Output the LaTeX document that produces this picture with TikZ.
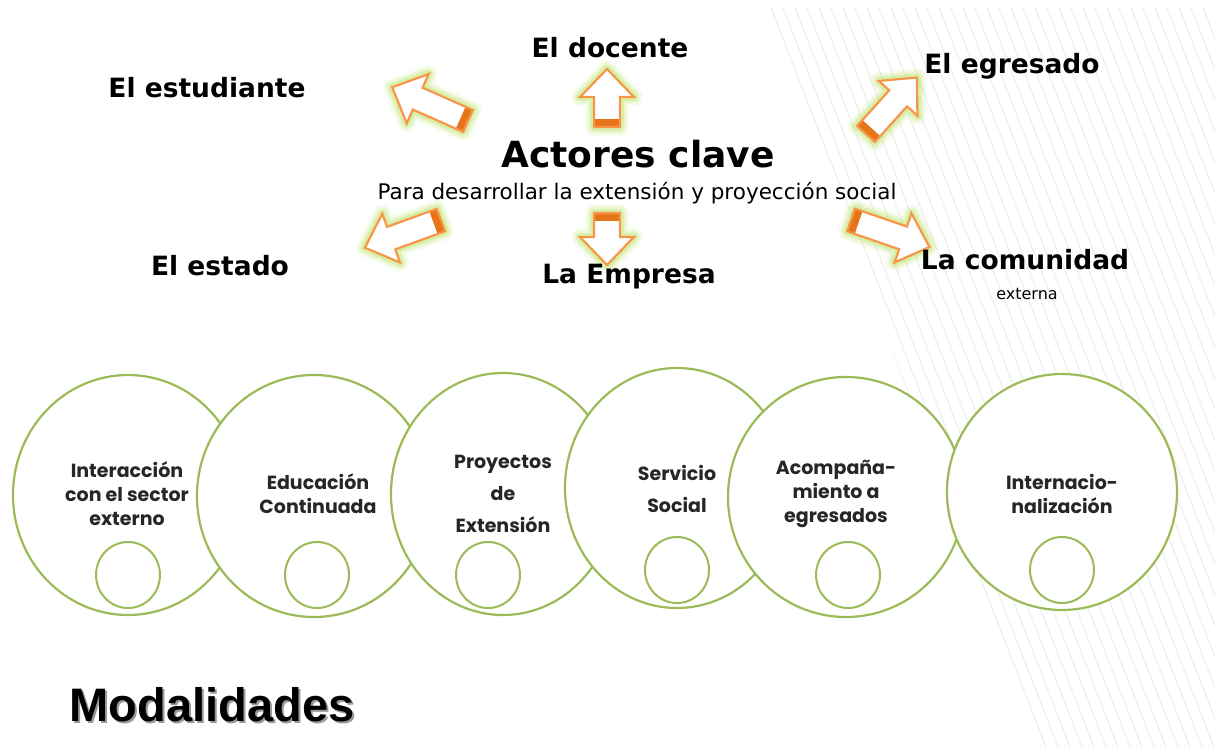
\documentclass[tikz,border=0pt]{standalone}
\usepackage{fontspec}
\usetikzlibrary{shapes.geometric}
\newfontfamily\comicf{DejaVu Sans}
\newfontfamily\circf{Poppins}
\newfontfamily\arialf{Liberation Sans}
\definecolor{olivec}{HTML}{9BBB59}
\definecolor{arrc}{HTML}{F79646}
\definecolor{bandc}{HTML}{E8741A}
\definecolor{glowc}{HTML}{B5E35A}
\definecolor{stripec}{HTML}{EBEBEB}
\newcommand\blkarrow[6]{%
\begin{scope}[shift={#1},rotate=#2]
\foreach \w/\o in {18/0.10,13/0.18,8/0.32}{
\draw[line width=\w pt, glowc, opacity=\o, line join=round]
 (0,{-#4}) -- ({#3-#6},{-#4}) -- ({#3-#6},{-#5}) -- (#3,0) -- ({#3-#6},#5) -- ({#3-#6},#4) -- (0,#4) -- cycle;}
\fill[white] (0,{-#4}) -- ({#3-#6},{-#4}) -- ({#3-#6},{-#5}) -- (#3,0) -- ({#3-#6},#5) -- ({#3-#6},#4) -- (0,#4) -- cycle;
\fill[bandc] (0,{-#4}) rectangle (8,#4);
\draw[arrc, line width=2.2pt, line join=miter]
 (0,{-#4}) -- ({#3-#6},{-#4}) -- ({#3-#6},{-#5}) -- (#3,0) -- ({#3-#6},#5) -- ({#3-#6},#4) -- (0,#4) -- cycle;
\end{scope}}
\tikzset{
 big/.style={draw=olivec, line width=2.2pt, fill=white, ellipse, inner sep=0pt},
 small/.style={draw=olivec, line width=2pt, ellipse, inner sep=0pt, minimum width=64pt, minimum height=66pt},
 ctext/.style={align=center, text=black!85, font=\circf\bfseries\fontsize{19}{24}\selectfont},
 ctextw/.style={align=center, text=black!85, font=\circf\bfseries\fontsize{19}{32}\selectfont},
 lbl/.style={text=black, font=\comicf\bfseries\fontsize{26.5}{30}\selectfont, inner sep=0pt},
}
\begin{document}
\begin{tikzpicture}[x=1pt,y=-1pt]
\useasboundingbox (0,0) rectangle (1215,747);
\fill[white] (0,0) rectangle (1215,747);
% stripes
\begin{scope}
\clip (765,8) -- (1215,8) -- (1215,747) -- (1040,747) -- cycle;
\foreach \i in {0,...,75}{
 \draw[stripec, line width=0.9pt] ({600+\i*12},0) -- ({600+\i*12+290},747);}
\end{scope}
% circles
\node[big, minimum width=230pt, minimum height=240pt] (c1) at (128,495) {};
\node[big, minimum width=234pt, minimum height=242pt] (c2) at (314,496) {};
\node[big, minimum width=224pt, minimum height=242pt] (c3) at (503,494) {};
\node[big, minimum width=224pt, minimum height=240pt] (c4) at (677,488) {};
\node[big, minimum width=236pt, minimum height=240pt] (c5) at (846,497) {};
\node[big, minimum width=230pt, minimum height=236pt] (c6) at (1062,492) {};
\node[small] (s1) at (128,575) {};
\node[small] (s2) at (317,575) {};
\node[small] (s3) at (488,575) {};
\node[small] (s4) at (677,570) {};
\node[small] (s5) at (848,575) {};
\node[small] (s6) at (1062,570) {};
\node[ctext] (t1) at (127,494) {Interacción\\con el sector\\externo};
\node[ctext] (t2) at (318,494) {Educación\\Continuada};
\node[ctextw] (t3) at (503,494) {Proyectos\\de\\Extensión};
\node[ctextw] (t4) at (677,489) {Servicio\\Social};
\node[ctext] (t5) at (836,494) {Acompaña-\\miento a\\egresados};
\node[ctext] (t6) at (1062,494) {Internacio-\\nalización};
% Modalidades
\node[text=black!40, font=\arialf\bfseries\fontsize{47}{50}\selectfont, inner sep=0pt] (modsh) at (214,707) {Modalidades};
\node[text=black, font=\arialf\bfseries\fontsize{47}{50}\selectfont, inner sep=0pt] (mod) at (212,705) {Modalidades};
% arrows
\blkarrow{(468,121)}{156}{83}{12}{27}{28}
\blkarrow{(607,127)}{90}{58}{13}{27}{28}
\blkarrow{(866,134)}{48}{76}{12}{26}{28}
\blkarrow{(441,220)}{200}{81}{12}{26}{28}
\blkarrow{(607,213)}{-90}{52}{13}{27}{28}
\blkarrow{(851,220)}{-19}{83}{12}{26}{28}
% labels
\node[lbl] (est) at (207,88) {El estudiante};
\node[lbl] (doc) at (610,48) {El docente};
\node[lbl] (egr) at (1012,66) {El egresado};
\node[lbl, font=\comicf\bfseries\fontsize{36}{40}\selectfont] (act) at (638,154) {Actores clave};
\node[inner sep=0pt, font=\comicf\fontsize{21.5}{24}\selectfont] (para) at (637,193) {Para desarrollar la extensión y proyección social};
\node[lbl] (esd) at (220,266) {El estado};
\node[lbl] (emp) at (629,277) {La Empresa};
\node[lbl] (com) at (1025,260) {La comunidad};
\node[inner sep=0pt, font=\comicf\fontsize{16}{18}\selectfont] (ext) at (1027,294) {externa};
\end{tikzpicture}
\end{document}
